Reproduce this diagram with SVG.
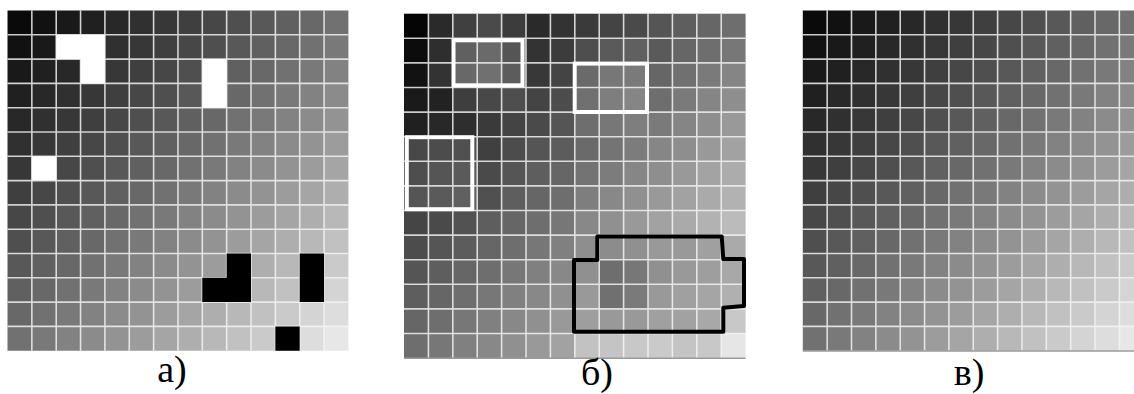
<svg xmlns="http://www.w3.org/2000/svg" xmlns:xlink="http://www.w3.org/1999/xlink" width="1134" height="394" viewBox="0 0 1134 394">
<style>
.grid{fill:none;stroke:#f4f4f4;stroke-opacity:0.8;stroke-width:0.066}
.lbl{font-family:"Liberation Serif","Times New Roman",serif;font-size:38px;fill:#000;text-anchor:middle}
.wbox{fill:none;stroke:#fff;stroke-width:4}
.bbox{fill:none;stroke:#000;stroke-width:4;stroke-linejoin:round}
.base{stroke:#9a9a9a;stroke-width:1.5}
</style>
<defs>
<path id="gridlines" class="grid" d="M1 0V14M2 0V14M3 0V14M4 0V14M5 0V14M6 0V14M7 0V14M8 0V14M9 0V14M10 0V14M11 0V14M12 0V14M13 0V14M0 1H14M0 2H14M0 3H14M0 4H14M0 5H14M0 6H14M0 7H14M0 8H14M0 9H14M0 10H14M0 11H14M0 12H14M0 13H14"/>
<g id="smooth">
<path fill="#0a0a0a" d="M0 0h1v1h-1z"/>
<path fill="#111111" d="M0 1h1v1h-1zm1-1h1v1h-1z"/>
<path fill="#191919" d="M0 2h1v1h-1zm1-1h1v1h-1zm1-1h1v1h-1z"/>
<path fill="#202020" d="M0 3h1v1h-1zm1-1h1v1h-1zm1-1h1v1h-1zm1-1h1v1h-1z"/>
<path fill="#282828" d="M0 4h1v1h-1zm1-1h1v1h-1zm1-1h1v1h-1zm1-1h1v1h-1zm1-1h1v1h-1z"/>
<path fill="#303030" d="M0 5h1v1h-1zm1-1h1v1h-1zm1-1h1v1h-1zm1-1h1v1h-1zm1-1h1v1h-1zm1-1h1v1h-1z"/>
<path fill="#373737" d="M0 6h1v1h-1zm1-1h1v1h-1zm1-1h1v1h-1zm1-1h1v1h-1zm1-1h1v1h-1zm1-1h1v1h-1zm1-1h1v1h-1z"/>
<path fill="#3f3f3f" d="M0 7h1v1h-1zm1-1h1v1h-1zm1-1h1v1h-1zm1-1h1v1h-1zm1-1h1v1h-1zm1-1h1v1h-1zm1-1h1v1h-1zm1-1h1v1h-1z"/>
<path fill="#474747" d="M0 8h1v1h-1zm1-1h1v1h-1zm1-1h1v1h-1zm1-1h1v1h-1zm1-1h1v1h-1zm1-1h1v1h-1zm1-1h1v1h-1zm1-1h1v1h-1zm1-1h1v1h-1z"/>
<path fill="#4f4f4f" d="M0 9h1v1h-1zm1-1h1v1h-1zm1-1h1v1h-1zm1-1h1v1h-1zm1-1h1v1h-1zm1-1h1v1h-1zm1-1h1v1h-1zm1-1h1v1h-1zm1-1h1v1h-1zm1-1h1v1h-1z"/>
<path fill="#585858" d="M0 10h1v1h-1zm1-1h1v1h-1zm1-1h1v1h-1zm1-1h1v1h-1zm1-1h1v1h-1zm1-1h1v1h-1zm1-1h1v1h-1zm1-1h1v1h-1zm1-1h1v1h-1zm1-1h1v1h-1zm1-1h1v1h-1z"/>
<path fill="#606060" d="M0 11h1v1h-1zm1-1h1v1h-1zm1-1h1v1h-1zm1-1h1v1h-1zm1-1h1v1h-1zm1-1h1v1h-1zm1-1h1v1h-1zm1-1h1v1h-1zm1-1h1v1h-1zm1-1h1v1h-1zm1-1h1v1h-1zm1-1h1v1h-1z"/>
<path fill="#686868" d="M0 12h1v1h-1zm1-1h1v1h-1zm1-1h1v1h-1zm1-1h1v1h-1zm1-1h1v1h-1zm1-1h1v1h-1zm1-1h1v1h-1zm1-1h1v1h-1zm1-1h1v1h-1zm1-1h1v1h-1zm1-1h1v1h-1zm1-1h1v1h-1zm1-1h1v1h-1z"/>
<path fill="#717171" d="M0 13h1v1h-1zm1-1h1v1h-1zm1-1h1v1h-1zm1-1h1v1h-1zm1-1h1v1h-1zm1-1h1v1h-1zm1-1h1v1h-1zm1-1h1v1h-1zm1-1h1v1h-1zm1-1h1v1h-1zm1-1h1v1h-1zm1-1h1v1h-1zm1-1h1v1h-1zm1-1h1v1h-1z"/>
<path fill="#797979" d="M1 13h1v1h-1zm1-1h1v1h-1zm1-1h1v1h-1zm1-1h1v1h-1zm1-1h1v1h-1zm1-1h1v1h-1zm1-1h1v1h-1zm1-1h1v1h-1zm1-1h1v1h-1zm1-1h1v1h-1zm1-1h1v1h-1zm1-1h1v1h-1zm1-1h1v1h-1z"/>
<path fill="#828282" d="M2 13h1v1h-1zm1-1h1v1h-1zm1-1h1v1h-1zm1-1h1v1h-1zm1-1h1v1h-1zm1-1h1v1h-1zm1-1h1v1h-1zm1-1h1v1h-1zm1-1h1v1h-1zm1-1h1v1h-1zm1-1h1v1h-1zm1-1h1v1h-1z"/>
<path fill="#8b8b8b" d="M3 13h1v1h-1zm1-1h1v1h-1zm1-1h1v1h-1zm1-1h1v1h-1zm1-1h1v1h-1zm1-1h1v1h-1zm1-1h1v1h-1zm1-1h1v1h-1zm1-1h1v1h-1zm1-1h1v1h-1zm1-1h1v1h-1z"/>
<path fill="#939393" d="M4 13h1v1h-1zm1-1h1v1h-1zm1-1h1v1h-1zm1-1h1v1h-1zm1-1h1v1h-1zm1-1h1v1h-1zm1-1h1v1h-1zm1-1h1v1h-1zm1-1h1v1h-1zm1-1h1v1h-1z"/>
<path fill="#9c9c9c" d="M5 13h1v1h-1zm1-1h1v1h-1zm1-1h1v1h-1zm1-1h1v1h-1zm1-1h1v1h-1zm1-1h1v1h-1zm1-1h1v1h-1zm1-1h1v1h-1zm1-1h1v1h-1z"/>
<path fill="#a5a5a5" d="M6 13h1v1h-1zm1-1h1v1h-1zm1-1h1v1h-1zm1-1h1v1h-1zm1-1h1v1h-1zm1-1h1v1h-1zm1-1h1v1h-1zm1-1h1v1h-1z"/>
<path fill="#aeaeae" d="M7 13h1v1h-1zm1-1h1v1h-1zm1-1h1v1h-1zm1-1h1v1h-1zm1-1h1v1h-1zm1-1h1v1h-1zm1-1h1v1h-1z"/>
<path fill="#b8b8b8" d="M8 13h1v1h-1zm1-1h1v1h-1zm1-1h1v1h-1zm1-1h1v1h-1zm1-1h1v1h-1zm1-1h1v1h-1z"/>
<path fill="#c1c1c1" d="M9 13h1v1h-1zm1-1h1v1h-1zm1-1h1v1h-1zm1-1h1v1h-1zm1-1h1v1h-1z"/>
<path fill="#cacaca" d="M10 13h1v1h-1zm1-1h1v1h-1zm1-1h1v1h-1zm1-1h1v1h-1z"/>
<path fill="#d4d4d4" d="M11 13h1v1h-1zm1-1h1v1h-1zm1-1h1v1h-1z"/>
<path fill="#dddddd" d="M12 13h1v1h-1zm1-1h1v1h-1z"/>
<path fill="#e7e7e7" d="M13 13h1v1h-1z"/>
</g>
</defs>
<rect width="1134" height="394" fill="#fff"/>

<g id="panel-a">
<g transform="translate(7.5,10.5) scale(24.35,24.3)">
<use xlink:href="#smooth" href="#smooth"/>
<use xlink:href="#gridlines" href="#gridlines"/>
<path fill="#fff" d="M2 1H4V3H3V2H2Z M8 2h1v2h-1z M1 6h1v1h-1z"/>
<path fill="#000" d="M9 10H10V12H8V11H9Z M12 10h1v2h-1z M11 13h1v1h-1z"/>
</g>
<text class="lbl" x="172" y="382">а)</text>
</g>

<g id="panel-b">
<g transform="translate(404,13.7) scale(24.4,24.6)">
<path fill="#050505" d="M0 0h1v1h-1z"/><path fill="#2a2a2a" d="M1 0h1v1h-1z"/><path fill="#404040" d="M2 0h1v1h-1z"/><path fill="#4a4a4a" d="M3 0h1v1h-1z"/><path fill="#3c3c3c" d="M4 0h1v1h-1z"/><path fill="#2a2a2a" d="M5 0h1v1h-1z"/><path fill="#333333" d="M6 0h1v1h-1z"/><path fill="#3a3a3a" d="M7 0h1v1h-1z"/><path fill="#444444" d="M8 0h1v1h-1z"/><path fill="#4a4a4a" d="M9 0h1v1h-1z"/><path fill="#555555" d="M10 0h1v1h-1z"/><path fill="#5e5e5e" d="M11 0h1v1h-1z"/><path fill="#666666" d="M12 0h1v1h-1z"/><path fill="#6e6e6e" d="M13 0h1v1h-1z"/>
<path fill="#0c0c0c" d="M0 1h1v1h-1z"/><path fill="#2e2e2e" d="M1 1h1v1h-1z"/><path fill="#606060" d="M2 1h1v1h-1z"/><path fill="#6a6a6a" d="M3 1h1v1h-1z"/><path fill="#555555" d="M4 1h1v1h-1z"/><path fill="#333333" d="M5 1h1v1h-1z"/><path fill="#3c3c3c" d="M6 1h1v1h-1z"/><path fill="#4e4e4e" d="M7 1h1v1h-1z"/><path fill="#5a5a5a" d="M8 1h1v1h-1z"/><path fill="#606060" d="M9 1h1v1h-1z"/><path fill="#5a5a5a" d="M10 1h1v1h-1z"/><path fill="#666666" d="M11 1h1v1h-1z"/><path fill="#6e6e6e" d="M12 1h1v1h-1z"/><path fill="#777777" d="M13 1h1v1h-1z"/>
<path fill="#121212" d="M0 2h1v1h-1z"/><path fill="#333333" d="M1 2h1v1h-1z"/><path fill="#686868" d="M2 2h1v1h-1z"/><path fill="#707070" d="M3 2h1v1h-1z"/><path fill="#5c5c5c" d="M4 2h1v1h-1z"/><path fill="#383838" d="M5 2h1v1h-1z"/><path fill="#444444" d="M6 2h1v1h-1z"/><path fill="#6a6a6a" d="M7 2h1v1h-1z"/><path fill="#777777" d="M8 2h1v1h-1z"/><path fill="#7a7a7a" d="M9 2h1v1h-1z"/><path fill="#666666" d="M10 2h1v1h-1z"/><path fill="#707070" d="M11 2h1v1h-1z"/><path fill="#7a7a7a" d="M12 2h1v1h-1z"/><path fill="#858585" d="M13 2h1v1h-1z"/>
<path fill="#1a1a1a" d="M0 3h1v1h-1z"/><path fill="#222222" d="M1 3h1v1h-1z"/><path fill="#3e3e3e" d="M2 3h1v1h-1z"/><path fill="#484848" d="M3 3h1v1h-1z"/><path fill="#4e4e4e" d="M4 3h1v1h-1z"/><path fill="#444444" d="M5 3h1v1h-1z"/><path fill="#4c4c4c" d="M6 3h1v1h-1z"/><path fill="#707070" d="M7 3h1v1h-1z"/><path fill="#7e7e7e" d="M8 3h1v1h-1z"/><path fill="#858585" d="M9 3h1v1h-1z"/><path fill="#6e6e6e" d="M10 3h1v1h-1z"/><path fill="#7a7a7a" d="M11 3h1v1h-1z"/><path fill="#858585" d="M12 3h1v1h-1z"/><path fill="#8e8e8e" d="M13 3h1v1h-1z"/>
<path fill="#202020" d="M0 4h1v1h-1z"/><path fill="#282828" d="M1 4h1v1h-1z"/><path fill="#2e2e2e" d="M2 4h1v1h-1z"/><path fill="#3a3a3a" d="M3 4h1v1h-1z"/><path fill="#444444" d="M4 4h1v1h-1z"/><path fill="#4a4a4a" d="M5 4h1v1h-1z"/><path fill="#555555" d="M6 4h1v1h-1z"/><path fill="#6e6e6e" d="M7 4h1v1h-1z"/><path fill="#777777" d="M8 4h1v1h-1z"/><path fill="#7e7e7e" d="M9 4h1v1h-1z"/><path fill="#7a7a7a" d="M10 4h1v1h-1z"/><path fill="#858585" d="M11 4h1v1h-1z"/><path fill="#8e8e8e" d="M12 4h1v1h-1z"/><path fill="#999999" d="M13 4h1v1h-1z"/>
<path fill="#484848" d="M0 5h1v1h-1z"/><path fill="#4c4c4c" d="M1 5h1v1h-1z"/><path fill="#505050" d="M2 5h1v1h-1z"/><path fill="#404040" d="M3 5h1v1h-1z"/><path fill="#4c4c4c" d="M4 5h1v1h-1z"/><path fill="#555555" d="M5 5h1v1h-1z"/><path fill="#5c5c5c" d="M6 5h1v1h-1z"/><path fill="#6a6a6a" d="M7 5h1v1h-1z"/><path fill="#747474" d="M8 5h1v1h-1z"/><path fill="#7c7c7c" d="M9 5h1v1h-1z"/><path fill="#868686" d="M10 5h1v1h-1z"/><path fill="#8e8e8e" d="M11 5h1v1h-1z"/><path fill="#999999" d="M12 5h1v1h-1z"/><path fill="#a2a2a2" d="M13 5h1v1h-1z"/>
<path fill="#4e4e4e" d="M0 6h1v1h-1z"/><path fill="#555555" d="M1 6h1v1h-1z"/><path fill="#5a5a5a" d="M2 6h1v1h-1z"/><path fill="#4a4a4a" d="M3 6h1v1h-1z"/><path fill="#555555" d="M4 6h1v1h-1z"/><path fill="#5e5e5e" d="M5 6h1v1h-1z"/><path fill="#666666" d="M6 6h1v1h-1z"/><path fill="#737373" d="M7 6h1v1h-1z"/><path fill="#7c7c7c" d="M8 6h1v1h-1z"/><path fill="#868686" d="M9 6h1v1h-1z"/><path fill="#8e8e8e" d="M10 6h1v1h-1z"/><path fill="#999999" d="M11 6h1v1h-1z"/><path fill="#a3a3a3" d="M12 6h1v1h-1z"/><path fill="#acacac" d="M13 6h1v1h-1z"/>
<path fill="#555555" d="M0 7h1v1h-1z"/><path fill="#5a5a5a" d="M1 7h1v1h-1z"/><path fill="#606060" d="M2 7h1v1h-1z"/><path fill="#505050" d="M3 7h1v1h-1z"/><path fill="#5e5e5e" d="M4 7h1v1h-1z"/><path fill="#666666" d="M5 7h1v1h-1z"/><path fill="#6e6e6e" d="M6 7h1v1h-1z"/><path fill="#7e7e7e" d="M7 7h1v1h-1z"/><path fill="#888888" d="M8 7h1v1h-1z"/><path fill="#909090" d="M9 7h1v1h-1z"/><path fill="#999999" d="M10 7h1v1h-1z"/><path fill="#a2a2a2" d="M11 7h1v1h-1z"/><path fill="#aaaaaa" d="M12 7h1v1h-1z"/><path fill="#b2b2b2" d="M13 7h1v1h-1z"/>
<path fill="#454545" d="M0 8h1v1h-1z"/><path fill="#4a4a4a" d="M1 8h1v1h-1z"/><path fill="#525252" d="M2 8h1v1h-1z"/><path fill="#5e5e5e" d="M3 8h1v1h-1z"/><path fill="#666666" d="M4 8h1v1h-1z"/><path fill="#6e6e6e" d="M5 8h1v1h-1z"/><path fill="#777777" d="M6 8h1v1h-1z"/><path fill="#888888" d="M7 8h1v1h-1z"/><path fill="#909090" d="M8 8h1v1h-1z"/><path fill="#999999" d="M9 8h1v1h-1z"/><path fill="#a2a2a2" d="M10 8h1v1h-1z"/><path fill="#aaaaaa" d="M11 8h1v1h-1z"/><path fill="#b2b2b2" d="M12 8h1v1h-1z"/><path fill="#bbbbbb" d="M13 8h1v1h-1z"/>
<path fill="#4c4c4c" d="M0 9h1v1h-1z"/><path fill="#555555" d="M1 9h1v1h-1z"/><path fill="#5c5c5c" d="M2 9h1v1h-1z"/><path fill="#666666" d="M3 9h1v1h-1z"/><path fill="#6e6e6e" d="M4 9h1v1h-1z"/><path fill="#777777" d="M5 9h1v1h-1z"/><path fill="#808080" d="M6 9h1v1h-1z"/><path fill="#8e8e8e" d="M7 9h1v1h-1z"/><path fill="#8c8c8c" d="M8 9h1v1h-1z"/><path fill="#909090" d="M9 9h1v1h-1z"/><path fill="#999999" d="M10 9h1v1h-1z"/><path fill="#999999" d="M11 9h1v1h-1z"/><path fill="#a0a0a0" d="M12 9h1v1h-1z"/><path fill="#aaaaaa" d="M13 9h1v1h-1z"/>
<path fill="#555555" d="M0 10h1v1h-1z"/><path fill="#5e5e5e" d="M1 10h1v1h-1z"/><path fill="#666666" d="M2 10h1v1h-1z"/><path fill="#6e6e6e" d="M3 10h1v1h-1z"/><path fill="#777777" d="M4 10h1v1h-1z"/><path fill="#808080" d="M5 10h1v1h-1z"/><path fill="#888888" d="M6 10h1v1h-1z"/><path fill="#909090" d="M7 10h1v1h-1z"/><path fill="#6e6e6e" d="M8 10h1v1h-1z"/><path fill="#777777" d="M9 10h1v1h-1z"/><path fill="#909090" d="M10 10h1v1h-1z"/><path fill="#999999" d="M11 10h1v1h-1z"/><path fill="#9e9e9e" d="M12 10h1v1h-1z"/><path fill="#a8a8a8" d="M13 10h1v1h-1z"/>
<path fill="#5e5e5e" d="M0 11h1v1h-1z"/><path fill="#666666" d="M1 11h1v1h-1z"/><path fill="#6e6e6e" d="M2 11h1v1h-1z"/><path fill="#777777" d="M3 11h1v1h-1z"/><path fill="#808080" d="M4 11h1v1h-1z"/><path fill="#888888" d="M5 11h1v1h-1z"/><path fill="#909090" d="M6 11h1v1h-1z"/><path fill="#999999" d="M7 11h1v1h-1z"/><path fill="#707070" d="M8 11h1v1h-1z"/><path fill="#7a7a7a" d="M9 11h1v1h-1z"/><path fill="#999999" d="M10 11h1v1h-1z"/><path fill="#a0a0a0" d="M11 11h1v1h-1z"/><path fill="#a5a5a5" d="M12 11h1v1h-1z"/><path fill="#b0b0b0" d="M13 11h1v1h-1z"/>
<path fill="#666666" d="M0 12h1v1h-1z"/><path fill="#6e6e6e" d="M1 12h1v1h-1z"/><path fill="#777777" d="M2 12h1v1h-1z"/><path fill="#808080" d="M3 12h1v1h-1z"/><path fill="#888888" d="M4 12h1v1h-1z"/><path fill="#909090" d="M5 12h1v1h-1z"/><path fill="#999999" d="M6 12h1v1h-1z"/><path fill="#9e9e9e" d="M7 12h1v1h-1z"/><path fill="#999999" d="M8 12h1v1h-1z"/><path fill="#999999" d="M9 12h1v1h-1z"/><path fill="#a0a0a0" d="M10 12h1v1h-1z"/><path fill="#a2a2a2" d="M11 12h1v1h-1z"/><path fill="#a8a8a8" d="M12 12h1v1h-1z"/><path fill="#c8c8c8" d="M13 12h1v1h-1z"/>
<path fill="#6e6e6e" d="M0 13h1v1h-1z"/><path fill="#777777" d="M1 13h1v1h-1z"/><path fill="#808080" d="M2 13h1v1h-1z"/><path fill="#888888" d="M3 13h1v1h-1z"/><path fill="#909090" d="M4 13h1v1h-1z"/><path fill="#999999" d="M5 13h1v1h-1z"/><path fill="#a2a2a2" d="M6 13h1v1h-1z"/><path fill="#c2c2c2" d="M7 13h1v1h-1z"/><path fill="#c4c4c4" d="M8 13h1v1h-1z"/><path fill="#c8c8c8" d="M9 13h1v1h-1z"/><path fill="#cacaca" d="M10 13h1v1h-1z"/><path fill="#c4c4c4" d="M11 13h1v1h-1z"/><path fill="#c8c8c8" d="M12 13h1v1h-1z"/><path fill="#e6e6e6" d="M13 13h1v1h-1z"/>
<use xlink:href="#gridlines" href="#gridlines"/>
</g>
<line class="base" x1="404" y1="358.3" x2="745.6" y2="358.3"/>
<rect class="wbox" x="453.5" y="40.3" width="69" height="45"/>
<rect class="wbox" x="574.7" y="63.6" width="72.3" height="48.4"/>
<rect class="wbox" x="406.8" y="137.2" width="65.5" height="72"/>
<path class="bbox" d="M574 260H597.3V236.4H721.7L723.3 259H744V306L723.3 307.7V331.7H574Z"/>
<text class="lbl" x="597" y="385">б)</text>
</g>

<g id="panel-c">
<g transform="translate(802.8,10.5) scale(24.35,24.3)">
<use xlink:href="#smooth" href="#smooth"/>
<use xlink:href="#gridlines" href="#gridlines"/>
</g>
<line class="base" x1="802.8" y1="350.9" x2="1134" y2="350.9"/>
<text class="lbl" x="969" y="385">в)</text>
</g>
</svg>
